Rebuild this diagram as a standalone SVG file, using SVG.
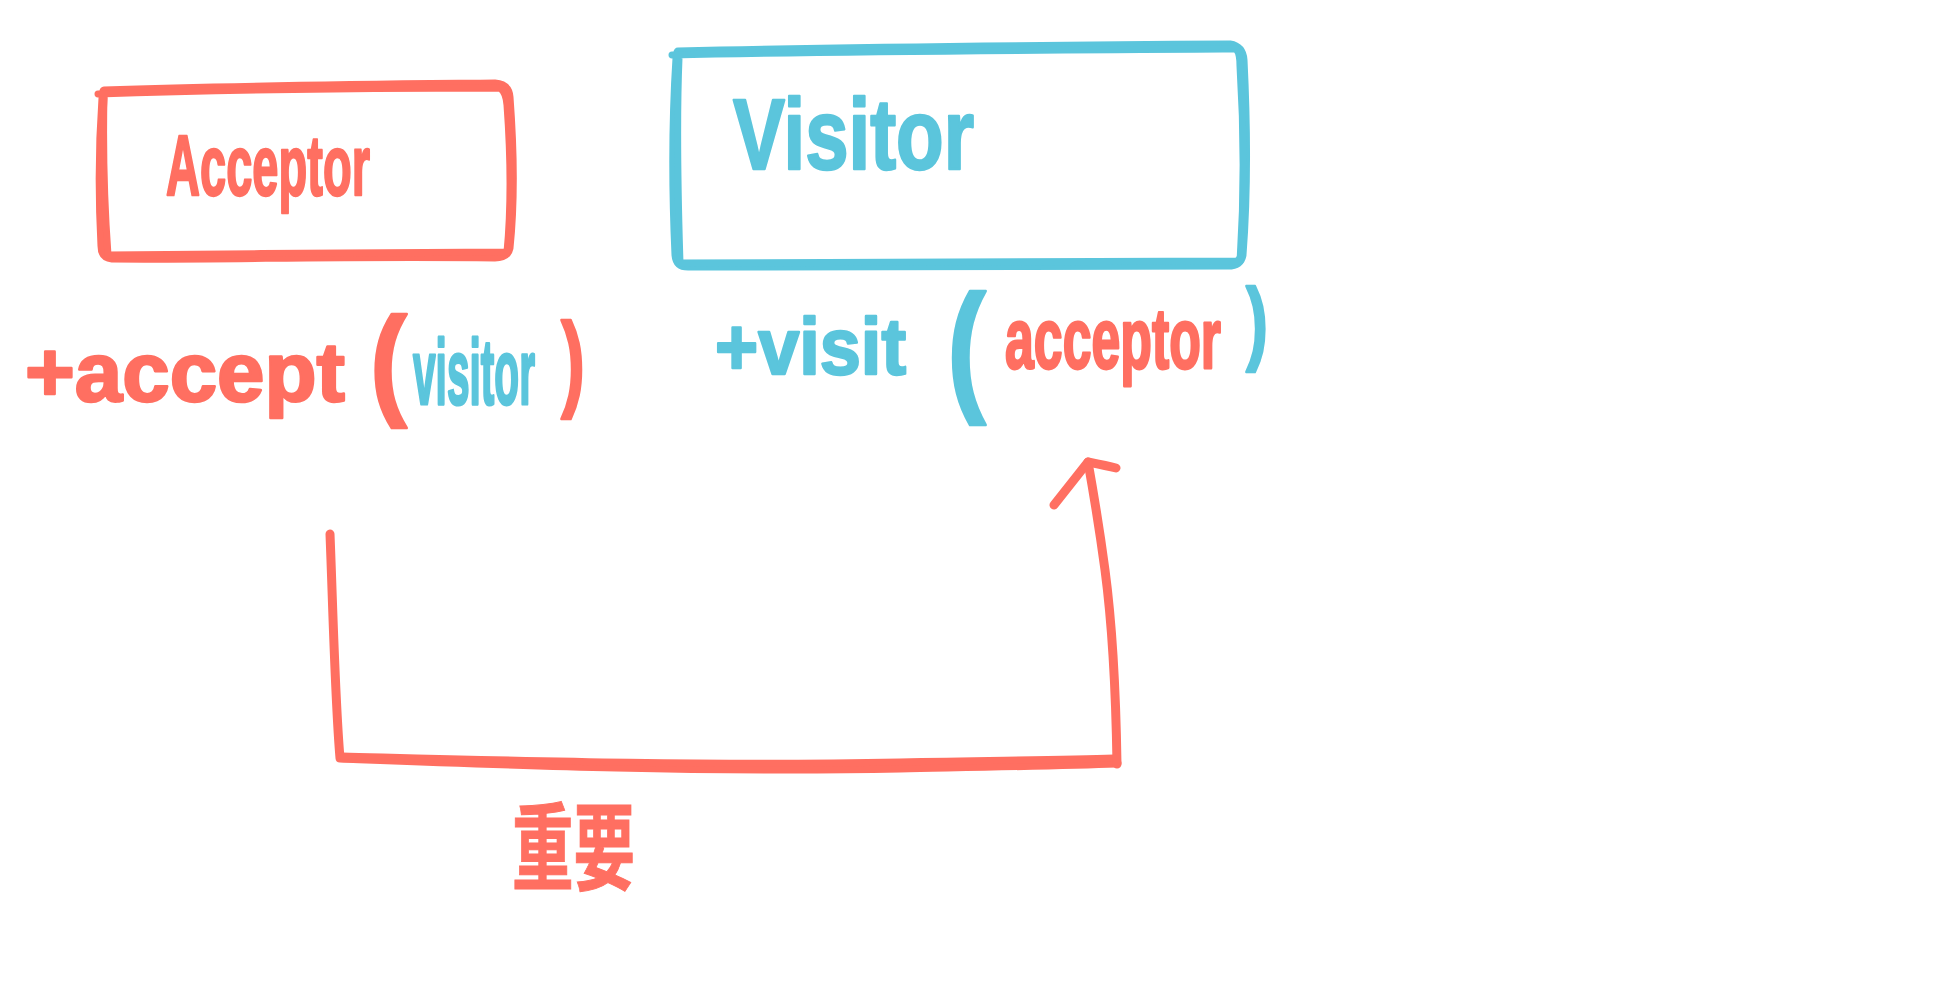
<svg xmlns="http://www.w3.org/2000/svg" width="1933" height="1000" viewBox="0 0 1933 1000">
<style>
.edge{fill:none;stroke-linecap:round;stroke-linejoin:round}
.r{stroke:#ff6f61}
.b{stroke:#5bc5dc}
.w1{stroke-width:9}
.w2{stroke-width:7}
.t{font-family:"Liberation Sans Narrow","Liberation Sans",Arial,sans-serif;font-weight:bold;stroke-linejoin:round;stroke-linecap:round;stroke-width:2.5}
.tr{fill:#ff6f61;stroke:#ff6f61}
.tb{fill:#5bc5dc;stroke:#5bc5dc}
.ns{vector-effect:non-scaling-stroke}
.cjk{font-family:"Liberation Sans","Noto Sans CJK SC",sans-serif;font-weight:bold}
</style>
<rect width="1933" height="1000" fill="#ffffff"/>

<g id="acceptor">
  <path class="edge r w1" d="M104,91 C250,86 400,85 495,84 Q508,85 509,97 C513,150 514,200 509,248 Q507,257 495,257 C350,255 220,259 112,258 Q102,257 102,246 C99,190 100,140 103,98"/>
  <path class="edge r w2" d="M98,94 C250,89 400,88 500,88 Q506,92 507,105 C511,160 511,210 507,252 C380,252 240,254 108,255 C104,200 103,140 104,94"/>
  <text class="t tr" x="166" y="195" font-size="86" textLength="204" lengthAdjust="spacingAndGlyphs">Acceptor</text>
</g>

<g id="visitor">
  <path class="edge b w1" d="M678,52 C850,48 1050,46 1230,45 Q1242,47 1243,60 C1246,120 1247,190 1242,255 Q1240,265 1228,265 C1050,265 850,267 688,266 Q677,266 676,255 C673,190 673,120 677,58"/>
  <path class="edge b w2" d="M672,55 C850,51 1050,50 1236,49 Q1240,53 1240,66 C1244,130 1244,200 1240,261 C1050,262 850,262 680,263 C678,200 676,130 679,58"/>
  <text class="t tb" x="733" y="169" font-size="100" textLength="241" lengthAdjust="spacingAndGlyphs">Visitor</text>
</g>

<g id="accept-method">
  <text class="t tr" x="25" y="401" font-size="84" textLength="320" lengthAdjust="spacingAndGlyphs">+accept</text>
  <text class="t tr" x="370" y="403" font-size="122" textLength="37" lengthAdjust="spacingAndGlyphs">(</text>
  <text class="t tb ns" x="0" y="0" transform="translate(413,404) scale(1,1.77)" font-size="52" textLength="122" lengthAdjust="spacingAndGlyphs">visitor</text>
  <text class="t tr" x="561" y="397" font-size="106" textLength="24" lengthAdjust="spacingAndGlyphs">)</text>
</g>

<g id="visit-method">
  <text class="t tb" x="715" y="374" font-size="80" textLength="191" lengthAdjust="spacingAndGlyphs">+visit</text>
  <text class="t tb" x="947" y="395" font-size="143" textLength="39" lengthAdjust="spacingAndGlyphs">(</text>
  <text class="t tr ns" x="0" y="0" transform="translate(1005,368) scale(1,1.32)" font-size="65" textLength="216" lengthAdjust="spacingAndGlyphs">acceptor</text>
  <text class="t tb" x="1246" y="353" font-size="92" textLength="22" lengthAdjust="spacingAndGlyphs">)</text>
</g>

<g id="connectors">
  <path class="edge r w1" d="M330,534 C333,610 335,700 340,758 C500,764 700,772 900,768 C1000,766 1060,765 1117,763"/>
  <path class="edge r w2" d="M342,756 C500,760 700,766 900,762 C1000,760 1060,760 1114,758"/>
  <path class="edge r w1" d="M1117,764 C1116,700 1113,630 1105,570 C1099,525 1093,490 1088,462"/>
  <path class="edge r w1" d="M1054,505 L1088,462 C1098,464 1108,466 1116,468"/>
</g>

<g id="label">
  <text class="cjk tr" x="512" y="883" font-size="95" textLength="123" lengthAdjust="spacingAndGlyphs">重要</text>
</g>
</svg>
